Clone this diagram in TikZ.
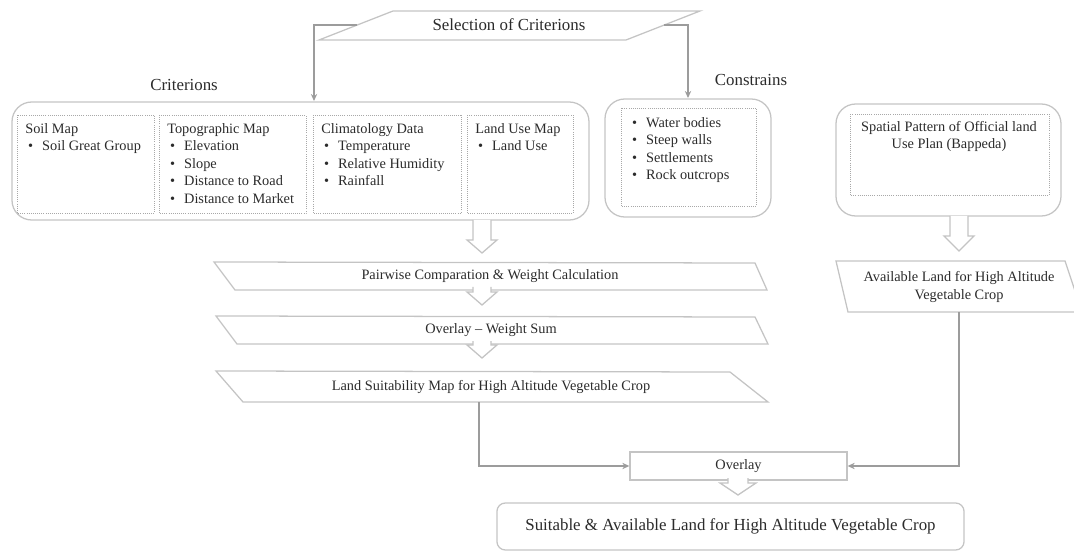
\documentclass[tikz,border=0pt]{standalone}
\usepackage{fontspec}
\setmainfont{Liberation Serif}
\usetikzlibrary{arrows.meta}
\definecolor{boxgray}{HTML}{C4C4C4}
\definecolor{dotgray}{HTML}{A8A8A8}
\definecolor{linegray}{HTML}{9C9C9C}
\definecolor{txtgray}{HTML}{2B2B2B}
\newcommand{\bul}{\hspace*{2pt}\makebox[10pt][l]{\textbullet}}
\tikzset{
  outline/.style={draw=boxgray, line width=0.9pt},
  dotbox/.style={draw=dotgray, line width=0.5pt, densely dotted},
  conn/.style={draw=linegray, line width=1.3pt, -{Stealth[length=5pt,width=4.5pt]}},
  hollow/.style={draw=boxgray, line width=0.9pt, fill=white},
  small/.style={font=\fontsize{10.2}{12.45}\selectfont, text=txtgray, inner sep=0pt},
  big/.style={font=\fontsize{12}{14}\selectfont, text=txtgray, inner sep=0pt},
}
\begin{document}
\begin{tikzpicture}[x=0.025cm, y=-0.025cm]
  \useasboundingbox (0,0) rectangle (1074,551);
  \clip (0,0) rectangle (1074,551);

  % Selection of criterions
  \draw[outline] (393,11) -- (700,11) -- (626,40) -- (319,40) -- cycle;
  \node[big] (sel) at (509,25) {Selection of Criterions};
  \coordinate (selL) at (357.3,25);
  \coordinate (selR) at (664.3,25);

  % Criterions block
  \node[big] (critlbl) at (184,85) {Criterions};
  \draw[outline, rounded corners=14pt] (12,102) rectangle (589,220);
  \draw[dotbox] (17,115) rectangle (154,213);
  \draw[dotbox] (159,115) rectangle (306,213);
  \draw[dotbox] (313,115) rectangle (461,213);
  \draw[dotbox] (467,115) rectangle (573,213);
  \node[small, anchor=north west, align=left] (soil) at (25,123)
    {Soil Map\\\bul Soil Great Group};
  \node[small, anchor=north west, align=left] (topo) at (167,123)
    {Topographic Map\\\bul Elevation\\\bul Slope\\\bul Distance to Road\\\bul Distance to Market};
  \node[small, anchor=north west, align=left] (clim) at (321,123)
    {Climatology Data\\\bul Temperature\\\bul Relative Humidity\\\bul Rainfall};
  \node[small, anchor=north west, align=left] (landuse) at (475,123)
    {Land Use Map\\\bul Land Use};
  \coordinate (critIn) at (314,101);

  % Constrains block
  \node[big] (conslbl) at (751,80) {Constrains};
  \draw[outline, rounded corners=14pt] (605,99) rectangle (771,217);
  \draw[dotbox] (621,108) rectangle (756,206);
  \node[small, anchor=north west, align=left] (cons) at (629,117)
    {\bul Water bodies\\\bul Steep walls\\\bul Settlements\\\bul Rock outcrops};
  \coordinate (consIn) at (688,98);

  % Official land use plan
  \draw[outline, rounded corners=14pt] (836,104) rectangle (1061,216);
  \draw[dotbox] (850,114) rectangle (1049,195);
  \node[small, anchor=north, align=center] (plan) at (949,121)
    {Spatial Pattern of Official land\\Use Plan (Bappeda)};

  % Processing steps
  \draw[outline] (214,262) -- (755,263) -- (767,290) -- (235,290) -- cycle;
  \node[small] (pw) at (490,276) {Pairwise Comparation \& Weight Calculation};
  \draw[outline] (216,316) -- (755,317) -- (768,344) -- (237,344) -- cycle;
  \node[small] (ows) at (491,330) {Overlay -- Weight Sum};
  \draw[outline] (216,371) -- (730,372) -- (768,402) -- (243,402) -- cycle;
  \node[small] (lsm) at (491,387) {Land Suitability Map for High Altitude Vegetable Crop};
  \coordinate (lsmOut) at (479,402);

  % Available land
  \draw[outline] (836,261) -- (1065,261) -- (1082,312) -- (848,312) -- cycle;
  \node[small, align=center] (avl) at (959,287) {Available Land for High Altitude\\Vegetable Crop};
  \coordinate (avlOut) at (959,312);

  % Hollow arrows
  \draw[hollow] (473,220) -- (473,240) -- (467,240) -- (482,253) -- (497,240) -- (491,240) -- (491,220);
  \draw[hollow] (473,287) -- (473,292) -- (467,292) -- (482,305) -- (497,292) -- (491,292) -- (491,287);
  \draw[hollow] (473,341) -- (473,345) -- (467,345) -- (482,358) -- (497,345) -- (491,345) -- (491,341);
  \draw[hollow] (950,216) -- (950,236) -- (944,236) -- (959,251) -- (974,236) -- (968,236) -- (968,216);

  % Overlay and result
  \node[small, outline, minimum width=5.425cm, minimum height=0.7cm] (ov) at (738.5,466) {Overlay};
  \draw[hollow] (728,478) -- (728,483) -- (720,483) -- (738,495) -- (756,483) -- (748,483) -- (748,478);
  \node[big, outline, rounded corners=6pt, minimum width=11.675cm, minimum height=1.175cm]
    (fin) at (730.5,526.5) {Suitable \& Available Land for High Altitude Vegetable Crop};

  % Connectors
  \draw[conn] (selL) -| (critIn);
  \draw[conn] (selR) -| (consIn);
  \draw[conn] (lsmOut) |- (ov.west);
  \draw[conn] (avlOut) |- (ov.east);
\end{tikzpicture}
\end{document}
